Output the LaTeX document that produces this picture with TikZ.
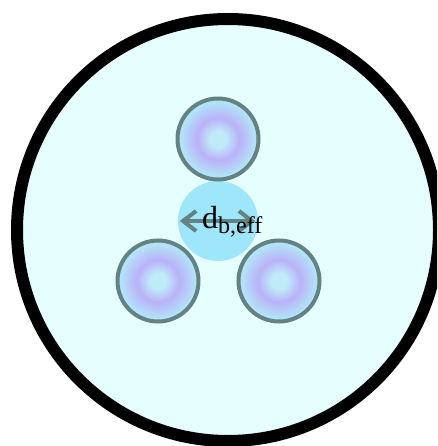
\documentclass[tikz,border=0pt]{standalone}
\usepackage{fontspec}
\setmainfont{Liberation Serif}
\usetikzlibrary{arrows.meta, shapes.geometric}

\definecolor{tubefill}{HTML}{E5FFFF}
\definecolor{corefill}{HTML}{9EE6FA}
\definecolor{beadline}{HTML}{638282}
\definecolor{beadcore}{HTML}{BFEAF8}
\definecolor{beadring}{HTML}{B9B2F8}
\definecolor{beadrim}{HTML}{B3E3F8}

\pgfdeclareradialshading{beadshade}{\pgfpoint{0bp}{0bp}}{%
  color(0bp)=(beadcore); color(5bp)=(beadcore); color(13bp)=(beadring);
  color(23bp)=(beadrim); color(50bp)=(beadrim)}

\begin{document}
\begin{tikzpicture}[
    x=1pt, y=-1pt,
    tube/.style={draw=black, circle, line width=12pt, fill=tubefill, minimum size=422pt, inner sep=0pt},
    bead/.style={draw=beadline, circle, line width=4pt, shading=beadshade, minimum size=81pt, inner sep=0pt},
    core/.style={circle, fill=corefill, minimum size=80pt, inner sep=0pt},
    dim/.style={draw=beadline, line width=4pt, {Straight Barb[length=13pt, width=20pt]}-{Straight Barb[length=13pt, width=20pt]}},
    label text/.style={font=\fontsize{32}{34}\selectfont, inner sep=0pt}
]
\useasboundingbox (0,0) rectangle (437,446);
\clip (0,0) rectangle (437,446);

% Rohr
\node[tube] (T) at (228, 230) {};

% Kern
\node[core] (C) at (218, 221) {};

% Kugeln
\node[bead] (B1) at (218, 139) {};
\node[bead] (B2) at (158, 281) {};
\node[bead] (B3) at (279, 281) {};

% Durchmesser
\draw[dim, shorten <=2pt, shorten >=3pt] (C.west) -- (C.east);
\node[label text, anchor=base west] (D) at (202, 228)
  {d{\fontsize{24}{26}\selectfont\raisebox{-5pt}{b,eff}}};

\end{tikzpicture}
\end{document}
